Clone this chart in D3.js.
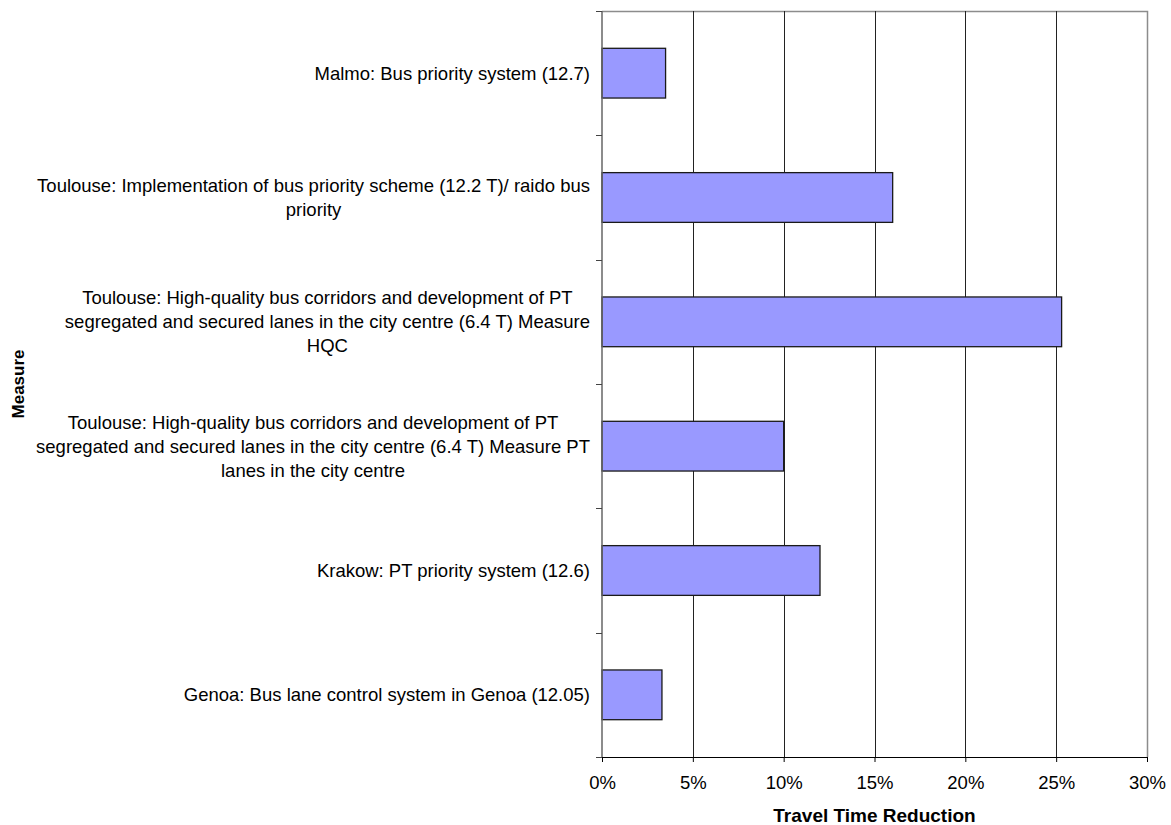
<!DOCTYPE html>
<html>
<head>
<meta charset="utf-8">
<script src="https://cdn.jsdelivr.net/npm/d3@7"></script>
<style>
  html, body { margin: 0; padding: 0; background: #fff; }
  svg { display: block; font-family: "Liberation Sans", Arial, sans-serif; }
</style>
</head>
<body>
<svg id="chart" width="1171" height="825"></svg>
<script>
// Measures, top to bottom, with their label lines
const measures = [
  "Malmo",
  "Toulouse bus priority",
  "Toulouse HQC",
  "Toulouse PT lanes",
  "Krakow",
  "Genoa"
];
const labelLines = [
  ["Malmo: Bus priority system (12.7)"],
  ["Toulouse: Implementation of bus priority scheme (12.2 T)/ raido bus", "priority"],
  ["Toulouse: High-quality bus corridors and development of PT",
   "segregated and secured lanes in the city centre (6.4 T) Measure",
   "HQC"],
  ["Toulouse: High-quality bus corridors and development of PT",
   "segregated and secured lanes in the city centre (6.4 T) Measure PT",
   "lanes in the city centre"],
  ["Krakow: PT priority system (12.6)"],
  ["Genoa: Bus lane control system in Genoa (12.05)"]
];
// Travel time reduction (fraction)
const reduction = [0.035, 0.16, 0.253, 0.10, 0.12, 0.033];
const xTicks = [0, 0.05, 0.10, 0.15, 0.20, 0.25, 0.30];

const svg = d3.select("#chart");
const plot = { left: 602, right: 1147, top: 11, bottom: 757 };
const fontSize = 18.5;

const x = d3.scaleLinear().domain([0, 0.30]).range([plot.left, plot.right]);
const y = d3.scaleBand().domain(measures).range([plot.top, plot.bottom]).paddingInner(0.6).paddingOuter(0.3);
const yBand = d3.scaleBand().domain(measures).range([plot.top, plot.bottom]);

// plot frame (top and right)
svg.append("path")
  .attr("d", `M${plot.left},${plot.top + 0.5}H${plot.right + 0.5}V${plot.bottom}`)
  .attr("fill", "none").attr("stroke", "#8c8c8c").attr("stroke-width", 1.5);

// vertical gridlines
svg.append("g").selectAll("line")
  .data(xTicks.slice(1, -1))
  .join("line")
  .attr("x1", d => Math.round(x(d)) + 0.5).attr("x2", d => Math.round(x(d)) + 0.5)
  .attr("y1", plot.top).attr("y2", plot.bottom)
  .attr("stroke", "#222").attr("stroke-width", 1);

// bars
svg.append("g").selectAll("rect")
  .data(measures)
  .join("rect")
  .attr("x", x(0))
  .attr("y", d => y(d))
  .attr("width", (d, i) => x(reduction[i]) - x(0))
  .attr("height", y.bandwidth())
  .attr("fill", "#9999ff")
  .attr("stroke", "#1a1a1a")
  .attr("stroke-width", 1.3);

// x axis
const xAxis = d3.axisBottom(x).tickValues(xTicks).tickFormat(d3.format(".0%")).tickSize(5).tickSizeOuter(0);
const gx = svg.append("g").attr("transform", `translate(0,${plot.bottom})`).call(xAxis);
gx.select(".domain").attr("stroke", "#000").attr("stroke-width", 1.2);
gx.selectAll(".tick line").attr("stroke", "#000");
gx.selectAll(".tick text")
  .attr("y", 26).attr("dy", "0.35em")
  .attr("font-size", fontSize).attr("fill", "#000")
  .attr("font-family", "Liberation Sans, Arial, sans-serif");

// y axis line with ticks at category boundaries
svg.append("line")
  .attr("x1", plot.left).attr("x2", plot.left)
  .attr("y1", plot.top).attr("y2", plot.bottom)
  .attr("stroke", "#666").attr("stroke-width", 1.5);
const bounds = measures.map(d => yBand(d)).concat([plot.bottom]);
svg.append("g").selectAll("line")
  .data(bounds)
  .join("line")
  .attr("x1", plot.left - 6).attr("x2", plot.left)
  .attr("y1", d => Math.round(d) + 0.5).attr("y2", d => Math.round(d) + 0.5)
  .attr("stroke", "#444").attr("stroke-width", 1);

// category labels: block right-aligned to the axis, lines centred within
const labelRight = 590;
const lineH = 24;
const lg = svg.append("g").attr("font-size", fontSize).attr("fill", "#000");
measures.forEach((m, i) => {
  const lines = labelLines[i];
  const t = lg.append("text").attr("text-anchor", "middle");
  const cy = yBand(m) + yBand.bandwidth() / 2;
  const y0 = cy - (lines.length - 1) * lineH / 2;
  lines.forEach((ln, j) => {
    t.append("tspan").attr("y", y0 + j * lineH).attr("dy", "0.35em").text(ln);
  });
  const w = d3.max(t.selectAll("tspan").nodes(), n => n.getComputedTextLength());
  t.selectAll("tspan").attr("x", labelRight - w / 2);
});

// axis titles
svg.append("text")
  .attr("x", (plot.left + plot.right) / 2).attr("y", 815)
  .attr("dy", "0.35em").attr("text-anchor", "middle")
  .attr("font-size", 19).attr("font-weight", "bold")
  .text("Travel Time Reduction");
svg.append("text")
  .attr("transform", `translate(18,${(plot.top + plot.bottom) / 2}) rotate(-90)`)
  .attr("dy", "0.35em").attr("text-anchor", "middle")
  .attr("font-size", 17).attr("font-weight", "bold")
  .text("Measure");
</script>
</body>
</html>
